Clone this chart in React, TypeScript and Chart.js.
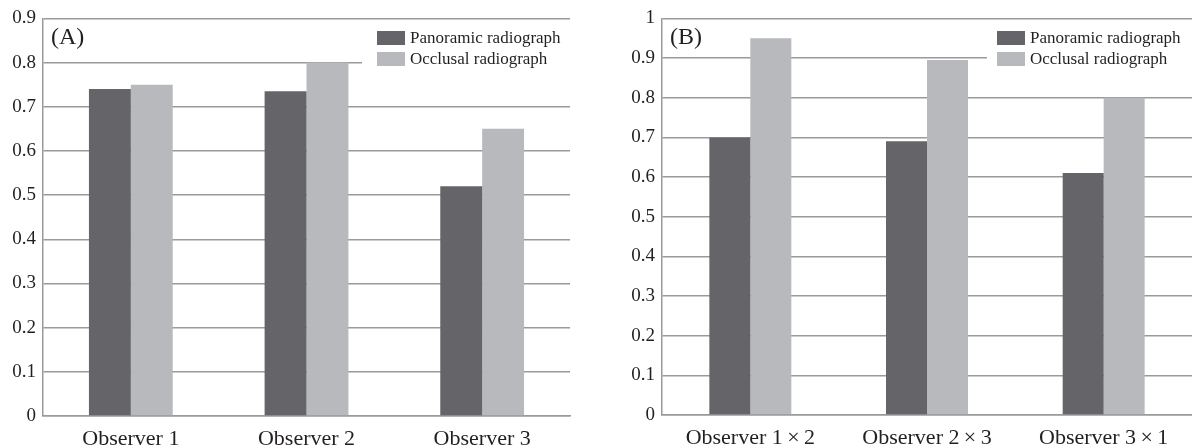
import React, { useEffect, useRef } from "react";
import { Chart, registerables } from "chart.js";

Chart.register(...registerables);

const seriesNames = ["Panoramic radiograph", "Occlusal radiograph"];
const seriesColors = ["#656569", "#b8b9bd"];

const categoriesA = ["Observer 1", "Observer 2", "Observer 3"];
const panoramicA = [0.74, 0.735, 0.52];
const occlusalA = [0.75, 0.8, 0.65];
const yTicksA = [0, 0.1, 0.2, 0.3, 0.4, 0.5, 0.6, 0.7, 0.8, 0.9];

const categoriesB = ["Observer 1\u2009×\u20092", "Observer 2\u2009×\u20093", "Observer 3\u2009×\u20091"];
const panoramicB = [0.7, 0.69, 0.61];
const occlusalB = [0.95, 0.895, 0.8];
const yTicksB = [0, 0.1, 0.2, 0.3, 0.4, 0.5, 0.6, 0.7, 0.8, 0.9, 1];

const FONT = "'Liberation Serif', 'Times New Roman', serif";
const GRID = "#9a9a9a";
const TEXT = "#231f20";

type PanelCfg = {
  tag: string;
  categories: string[];
  panoramic: number[];
  occlusal: number[];
  ticks: number[];
  axisLeft: number;
  top: number;
  bottom: number;
  right: number;
  legendFromRight: number;
  legendBgGap: number;
  catPct: number;
};

const overlayPlugin = {
  id: "panelOverlay",
  afterDraw(chart: any, _args: any, opts: any) {
    const ctx = chart.ctx;
    const area = chart.chartArea;
    ctx.save();
    // panel tag
    ctx.fillStyle = TEXT;
    ctx.font = `24px ${FONT}`;
    ctx.textAlign = "left";
    ctx.textBaseline = "middle";
    ctx.fillText(opts.tag, area.left + 8, 38);
    // legend
    const boxL = area.right - opts.legendFromRight;
    ctx.fillStyle = "#ffffff";
    ctx.fillRect(boxL - opts.legendBgGap, 24, chart.width - (boxL - opts.legendBgGap), 50);
    const rows = [38, 59];
    chart.data.datasets.forEach((ds: any, i: number) => {
      const cy = rows[i];
      ctx.fillStyle = ds.backgroundColor;
      ctx.fillRect(boxL, cy - 7, 28, 14);
      ctx.fillStyle = TEXT;
      ctx.font = `17px ${FONT}`;
      ctx.textBaseline = "middle";
      ctx.fillText(ds.label, boxL + 33, cy + 1);
    });
    ctx.restore();
  },
};

function Panel({ cfg, left, width }: { cfg: PanelCfg; left: number; width: number }) {
  const ref = useRef<HTMLCanvasElement | null>(null);
  useEffect(() => {
    if (!ref.current) return;
    const chart = new Chart(ref.current, {
      type: "bar",
      data: {
        labels: cfg.categories,
        datasets: [
          { label: seriesNames[0], data: cfg.panoramic, backgroundColor: seriesColors[0] },
          { label: seriesNames[1], data: cfg.occlusal, backgroundColor: seriesColors[1] },
        ],
      },
      options: {
        responsive: false,
        animation: false,
        devicePixelRatio: 1,
        layout: { padding: { top: cfg.top, right: width - cfg.right, left: 0, bottom: 0 } },
        datasets: { bar: { barPercentage: 1, categoryPercentage: cfg.catPct } },
        plugins: {
          legend: { display: false },
          tooltip: { enabled: false },
          panelOverlay: { tag: cfg.tag, legendFromRight: cfg.legendFromRight, legendBgGap: cfg.legendBgGap },
        } as any,
        scales: {
          x: {
            grid: { display: false },
            border: { display: true, color: GRID, width: 1.5 },
            ticks: { font: { family: FONT, size: 22, lineHeight: 1 }, color: TEXT, padding: 4, maxRotation: 0 },
            afterFit: (s: any) => { s.height = 448 - cfg.bottom; },
          },
          y: {
            min: 0,
            max: cfg.ticks[cfg.ticks.length - 1],
            afterBuildTicks: (s: any) => { s.ticks = cfg.ticks.map((v) => ({ value: v })); },
            grid: { color: GRID, lineWidth: 1.5, drawTicks: false },
            border: { display: true, color: GRID, width: 1.5 },
            ticks: {
              font: { family: FONT, size: 19 },
              color: TEXT,
              padding: 7,
              callback: (v: any) => String(Math.round(Number(v) * 10) / 10),
            },
            afterFit: (s: any) => { s.width = cfg.axisLeft; },
          },
        },
      },
      plugins: [overlayPlugin],
    });
    return () => chart.destroy();
  }, []);
  return (
    <canvas
      ref={ref}
      width={width}
      height={448}
      style={{ position: "absolute", left, top: 0, width, height: 448 }}
    />
  );
}

export default function App() {
  const cfgA: PanelCfg = {
    tag: "(A)",
    categories: categoriesA,
    panoramic: panoramicA,
    occlusal: occlusalA,
    ticks: yTicksA,
    axisLeft: 43,
    top: 17,
    bottom: 416,
    right: 570,
    legendFromRight: 193,
    legendBgGap: 15,
    catPct: 0.477,
  };
  const cfgB: PanelCfg = {
    tag: "(B)",
    categories: categoriesB,
    panoramic: panoramicB,
    occlusal: occlusalB,
    ticks: yTicksB,
    axisLeft: 66,
    top: 15,
    bottom: 415,
    right: 596,
    legendFromRight: 195,
    legendBgGap: 10,
    catPct: 0.464,
  };
  return (
    <div style={{ position: "absolute", left: 0, top: 0, width: 1192, height: 448, background: "#fff" }}>
      <Panel cfg={cfgA} left={0} width={596} />
      <Panel cfg={cfgB} left={596} width={596} />
    </div>
  );
}
